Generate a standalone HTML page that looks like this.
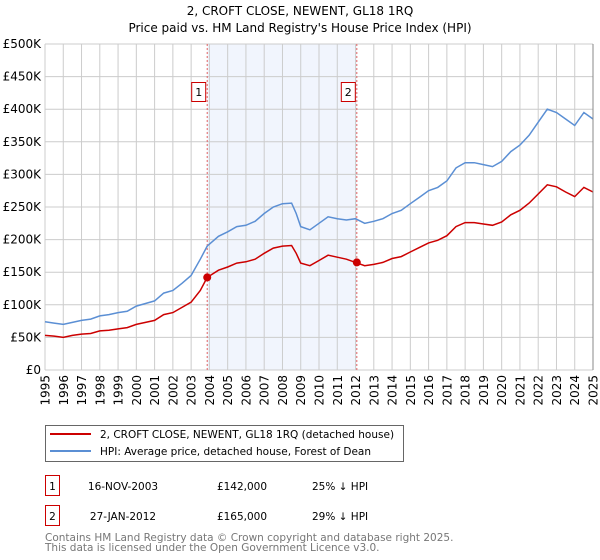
<!DOCTYPE html>
<html><head><meta charset="utf-8">
<style>
body{margin:0;background:#fff;width:600px;height:560px;overflow:hidden;font-family:"DejaVu Sans","Liberation Sans",sans-serif;}
svg{position:absolute;left:0;top:0}
text{font-family:"DejaVu Sans","Liberation Sans",sans-serif;}
</style></head>
<body>
<svg id="chart" width="600" height="560">
<text x="300" y="15" text-anchor="middle" font-size="12" fill="#000">2, CROFT CLOSE, NEWENT, GL18 1RQ</text>
<text x="300" y="32" text-anchor="middle" font-size="12" fill="#000">Price paid vs. HM Land Registry's House Price Index (HPI)</text>
<g id="grid"></g><g id="marks"></g><g id="axes"></g>
<g>
<rect x="45.5" y="425.5" width="358" height="36" fill="#fff" stroke="#666"/>
<line x1="50" y1="434" x2="91" y2="434" stroke="#cc0000" stroke-width="2"/>
<text x="100" y="438" font-size="10.5">2, CROFT CLOSE, NEWENT, GL18 1RQ (detached house)</text>
<line x1="50" y1="451" x2="91" y2="451" stroke="#5b8fd4" stroke-width="2"/>
<text x="100" y="455" font-size="10.5">HPI: Average price, detached house, Forest of Dean</text>
</g>
<g>
<rect x="45.5" y="475.5" width="14" height="20" fill="#fff" stroke="#cc0000"/>
<text x="52.5" y="490" text-anchor="middle" font-size="10.5">1</text>
<text x="123" y="490" text-anchor="middle" font-size="10.5">16-NOV-2003</text>
<text x="242" y="490" text-anchor="middle" font-size="10.5">£142,000</text>
<text x="312" y="490" font-size="10.5">25% ↓ HPI</text>
</g>
<g>
<rect x="45.5" y="505.5" width="14" height="20" fill="#fff" stroke="#cc0000"/>
<text x="52.5" y="520" text-anchor="middle" font-size="10.5">2</text>
<text x="123" y="520" text-anchor="middle" font-size="10.5">27-JAN-2012</text>
<text x="242" y="520" text-anchor="middle" font-size="10.5">£165,000</text>
<text x="312" y="520" font-size="10.5">29% ↓ HPI</text>
</g>
<text x="45" y="541" font-size="10.5" fill="#777">Contains HM Land Registry data © Crown copyright and database right 2025.</text>
<text x="45" y="551" font-size="10.5" fill="#777">This data is licensed under the Open Government Licence v3.0.</text>
</svg>
<script>
const hpiYears=[1995,1995.5,1996,1996.5,1997,1997.5,1998,1998.5,1999,1999.5,2000,2000.5,2001,2001.5,2002,2002.5,2003,2003.5,2003.88,2004.5,2005,2005.5,2006,2006.5,2007,2007.5,2008,2008.5,2008.75,2009,2009.5,2010,2010.5,2011,2011.5,2012,2012.5,2013,2013.5,2014,2014.5,2015,2015.5,2016,2016.5,2017,2017.5,2018,2018.5,2019,2019.5,2020,2020.5,2021,2021.5,2022,2022.5,2023,2023.5,2024,2024.5,2025];
const hpiValues=[74,72,70,73,76,78,83,85,88,90,98,102,106,118,122,133,145,170,190,205,212,220,222,228,240,250,255,256,240,220,215,225,235,232,230,232,225,228,232,240,245,255,265,275,280,290,310,318,318,315,312,320,335,345,360,380,400,395,385,375,395,385];
const priceValues=[53,52,50,53,55,56,60,61,63,65,70,73,76,85,88,96,104,122,142,153,158,164,166,170,179,187,190,191,179,164,160,168,176,173,170,165,160,162,165,171,174,181,188,195,199,206,220,226,226,224,222,227,238,245,256,270,284,281,273,266,280,273];
const saleYears=[2003.88,2012.07];
const salePrices=[142,165];
const yTicks=[0,50,100,150,200,250,300,350,400,450,500];
const xTicks=[1995,1996,1997,1998,1999,2000,2001,2002,2003,2004,2005,2006,2007,2008,2009,2010,2011,2012,2013,2014,2015,2016,2017,2018,2019,2020,2021,2022,2023,2024,2025];
const NS='http://www.w3.org/2000/svg';
const X0=45,X1=593,Y0=370,Y1=44;
const xs=t=>X0+(t-1995)/30*(X1-X0);
const ys=v=>Y0-v/500*(Y0-Y1);
function mk(tag,attrs,parent){const e=document.createElementNS(NS,tag);for(const k in attrs)e.setAttribute(k,attrs[k]);parent.appendChild(e);return e;}
const grid=document.getElementById('grid'),marks=document.getElementById('marks'),axes=document.getElementById('axes');
let shade=mk('rect',{x:xs(saleYears[0]),y:Y1,width:xs(saleYears[1])-xs(saleYears[0]),height:Y0-Y1,fill:'#eef3fc',opacity:0.8},grid);


yTicks.forEach(v=>{
 const l=mk('line',{x1:X0,x2:X1,y1:ys(v),y2:ys(v),stroke:'#cccccc','stroke-width':1},grid);
 
 
 const t=mk('text',{x:X0-4,y:ys(v)+4,'text-anchor':'end','font-size':'12',fill:'#000'},axes);
 t.textContent=v===0?'£0':'£'+v+'K';
 
 
});
xTicks.forEach(y=>{
 const l=mk('line',{x1:xs(y),x2:xs(y),y1:Y1,y2:Y0,stroke:'#cccccc','stroke-width':1},grid);
 
 
 const t=mk('text',{x:0,y:0,'text-anchor':'end','font-size':'12',fill:'#000',transform:`translate(${xs(y)+4.5},375) rotate(-90)`},axes);
 t.textContent=y;
 
 
});
saleYears.forEach((y,i)=>{
 const l=mk('line',{x1:xs(y),x2:xs(y),y1:Y1,y2:Y0,stroke:'#e06060','stroke-width':1,'stroke-dasharray':'2,2'},marks);
 
 
 const r=mk('rect',{x:xs(y)-15.5,y:82.5,width:14,height:19,fill:'#fff',stroke:'#cc0000'},marks);
 
 
 const t=mk('text',{x:xs(y)-8.5,y:96,'text-anchor':'middle','font-size':'11'},marks);
 t.textContent=String(i+1);
 
 
});
const pts=a=>hpiYears.map((y,i)=>xs(y).toFixed(1)+','+ys(a[i]).toFixed(1)).join(' ');
const hl=mk('polyline',{points:pts(hpiValues),fill:'none',stroke:'#5b8fd4','stroke-width':1.5},marks);


const pl=mk('polyline',{points:pts(priceValues),fill:'none',stroke:'#cc0000','stroke-width':1.5},marks);


saleYears.forEach((y,i)=>{
 const c=mk('circle',{cx:xs(y),cy:ys(salePrices[i]),r:4,fill:'#cc0000'},marks);
 
 
});
const ax=mk('line',{x1:X1,x2:X1,y1:Y1,y2:Y0,stroke:'#888','stroke-width':1},axes);


</script>
</body></html>
